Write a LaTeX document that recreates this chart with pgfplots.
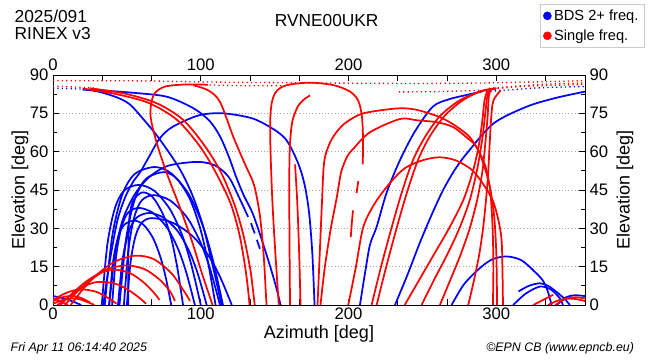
\documentclass[border=0pt]{standalone}
\usepackage{fontspec}
\setmainfont{Liberation Sans}
\usepackage{pgfplots}
\pgfplotsset{compat=1.18}
\pgfplotsset{
  bl/.style={color={rgb,255:red,0;green,0;blue,255}, line width=1.3pt, smooth, no marks},
  rd/.style={color={rgb,255:red,255;green,0;blue,0}, line width=1.3pt, smooth, no marks},
  bldot/.style={color={rgb,255:red,0;green,0;blue,255}, line width=1pt, smooth, no marks, dash pattern=on 0.9pt off 2.4pt},
  rddot/.style={color={rgb,255:red,255;green,0;blue,0}, line width=1pt, smooth, no marks, dash pattern=on 0.9pt off 2.4pt},
  common/.style={
    at={(39.75pt,41.25pt)}, anchor=south west, width=399pt, height=172.5pt, scale only axis,
    xmin=0, xmax=360, ymin=0, ymax=90,
    xtick={0,33.333,66.667,100,133.333,166.667,200,233.333,266.667,300,333.333},
    xticklabels={0,,,100,,,200,,,300,},
    ytick={0,15,...,90}, minor ytick={7.5,22.5,...,82.5},
    tick align=inside, major tick length=4.5pt, minor tick length=3pt,
    tick label style={font=\fontsize{12.5}{13}\selectfont},
    xticklabel style={yshift=1.5pt},
    label style={font=\fontsize{13.5}{14}\selectfont},
    /pgf/number format/assume math mode=true,
    every tick/.style={black, line width=0.6pt},
  }
}
\begin{document}
\begin{tikzpicture}[x=1pt,y=1pt]
\path (0,0) rectangle (487.5,270);
\node[anchor=west, font=\fontsize{13}{14}\selectfont] at (7.5,257.5) {2025/091};
\node[anchor=west, font=\fontsize{13}{14}\selectfont] at (7.5,245) {RINEX v3};
\node[anchor=center, font=\fontsize{13}{14}\selectfont] at (245,254.5) {RVNE00UKR};
\node[anchor=west, font=\itshape\fontsize{9.3}{10}\selectfont] at (4.5,9) {Fri Apr 11 06:14:40 2025};
\node[anchor=east, font=\itshape\fontsize{9.3}{10}\selectfont] at (479,9) {©EPN CB (www.epncb.eu)};
\begin{axis}[common,
  ymajorgrids, major grid style={gray!70, dotted, line width=0.6pt},
  axis line style={black, line width=0.7pt},
  xlabel={Azimuth [deg]}, ylabel={Elevation [deg]},
  xlabel style={at={(axis description cs:0.5,-0.126)}, anchor=center},
  ylabel style={at={(axis description cs:-0.062,0.5)}, anchor=center},
]
% ---------------- red dotted tops
\addplot[rddot] coordinates {(0,87.8) (60,87.7) (100,87.3) (150,87) (235,86.7) (280,86.8) (320,87.2) (360,87.8)};
\addplot[rddot] coordinates {(100,86.2) (130,85.8) (160,85.8)};
\addplot[rddot] coordinates {(234,83.4) (260,83.5) (289,84)};
\addplot[rddot] coordinates {(292,84.2) (320,85.6) (360,86.3)};
\addplot[rddot] coordinates {(295,84.8) (330,86.3) (360,86.9)};
\addplot[rddot] coordinates {(0,85.6) (15,85.3) (30,84.8)};
% ---------------- blue dotted tops
\addplot[bldot] coordinates {(0,84.8) (15,84.6) (30,84.2)};
\addplot[bldot] coordinates {(290,83.5) (300,83.8) (330,85) (360,85.5)};
% ---------------- blue tracks
\addplot[bl] coordinates {(20,84.3) (30,83.6) (43,81.3) (52,78.5) (61,72.8) (72,65) (86,53) (95,42) (102,30) (107,18) (111,8) (114,0)};
\addplot[bl] coordinates {(30,84.1) (55,83) (77,81.5) (95,77) (106,72) (113,66) (119,58) (124,50) (129,43) (135,36) (141,26) (147,15) (151,7) (154,0)};
\addplot[bl] coordinates {(34,0) (37,12) (40.8,25) (44,34) (48.7,42) (54,48) (59,52) (65,58) (72,65) (80.6,69.6) (98.6,74.2) (115,75) (135,73) (150,68.5) (158,64.5) (164,58) (168,52) (171,45) (173.5,35) (175.5,20) (177,0)};
\addplot[bl] coordinates {(38,0) (42,20) (47,33) (55,43) (65,50) (78,54.5) (98,56) (110,54.5) (119,50) (126,42) (132,34.5)};
\addplot[bl] coordinates {(134,32) (136.5,28)};
\addplot[bl] coordinates {(138,25.5) (140,22)};
\addplot[bl] coordinates {(35,0) (40.1,27) (46.9,43.2) (55.4,51.3) (69,54) (80.5,51.3) (92,43.2) (101.2,31.3) (108.1,17.8) (115,0)};
\addplot[bl] coordinates {(45,0) (49.5,26) (55.5,41.6) (63,49.4) (75,52) (83.75,49.4) (92.5,41.6) (99.5,30.2) (104.75,17.2) (110,0)};
\addplot[bl] coordinates {(33,0) (36.75,23.5) (41.75,37.6) (48,44.7) (58,47) (68.5,44.7) (79,37.6) (87.4,27.3) (93.7,15.5) (100,0)};
\addplot[bl] coordinates {(48,0) (51,21.5) (55,34.4) (60,40.9) (68,43) (79.25,40.9) (90.5,34.4) (99.5,24.9) (106.25,14.2) (113,0)};
\addplot[bl] coordinates {(40,0) (42.7,19) (46.3,30.4) (50.8,36.1) (58,38) (67.5,36.1) (77,30.4) (84.6,22) (90.3,12.5) (96,0)};
\addplot[bl] coordinates {(44,0) (47.15,18) (51.35,28.8) (56.6,34.2) (65,36) (74.75,34.2) (84.5,28.8) (92.3,20.9) (98.15,11.9) (104,0)};
\addplot[bl] coordinates {(50,0) (52.55,17) (55.95,27.2) (60.2,32.3) (67,34) (80.5,32.3) (94,27.2) (104.8,19.7) (112.9,11.2) (121,0)};
\addplot[bl] coordinates {(51,0) (51,20) (51.5,33) (54,40.5) (60,44) (67,42.5) (74,36) (79.6,27) (84,15) (88,0)};
\addplot[bl] coordinates {(38,0) (40.55,16.5) (43.95,26.4) (48.2,31.4) (55,33) (61.25,31.4) (67.5,26.4) (72.5,19.1) (76.25,10.9) (80,0)};
\addplot[bl] coordinates {(0,3.5) (8,2.5) (15,1) (19,0)};
\addplot[bl] coordinates {(341,0) (347,3) (353,3.8) (360,3.5)};
\addplot[bl] coordinates {(269.7,0) (278,8) (288,14) (297,17.8) (307,19) (317,17.5) (326,13) (331.7,9.4) (335,5) (337.4,0)};
\addplot[bl] coordinates {(315,5.3) (322,7.5) (329.5,8.5) (335,7.5) (341,5) (346,2.5) (349.8,0)};
\addplot[bl] coordinates {(311.4,0) (320,4.5) (329.5,7.2) (337,6) (343,2.6) (345,0)};
\addplot[bl] coordinates {(207.7,0) (211,12) (214.5,23.6) (219,30.6) (225.8,44) (234.8,56.7) (245,68) (257,77.6) (268,80.5) (280,82.2) (290,83.5)};
\addplot[bl] coordinates {(231.4,0) (240,12) (248,24) (256,35) (264,45) (272,53) (280,59.3) (298,71) (320.5,77.6) (340,81) (360,83.5)};
% ---------------- red tracks
\addplot[rd] coordinates {(20,84.7) (43,82.5) (65,79) (84,72.4) (99.5,62) (110,52) (120,40) (126,28) (130,15) (132,6) (133,0)};
\addplot[rd] coordinates {(25,84.8) (48,82.8) (70,79) (88,72.5) (103,62) (114,51.5) (123,39) (129,27) (133.5,14) (135.5,5) (136.5,0)};
\addplot[rd] coordinates {(108,0) (101,12) (94,25) (86,38) (78,50) (72,60) (68,68) (66,74) (66.5,79) (69,83) (76,85.5) (90,86.3) (105,86.2)};
\addplot[rd] coordinates {(95,86) (105,84) (113,79.5) (122,65.8) (130,55) (136,47) (140,35) (142.5,20) (144,5) (144.5,0)};
\addplot[rd] coordinates {(152.8,0) (150.5,20) (148.5,40) (147.2,60) (147,72) (148,79) (151,83.5) (158,86) (174,87) (190,86) (201,83.5) (206.5,80) (209,74) (209.8,65) (209.6,55)};
\addplot[rd] coordinates {(206.6,48.5) (205.4,43.8)};
\addplot[rd] coordinates {(203,37) (202.2,32) (201.5,26.6)};
\addplot[rd] coordinates {(160.4,0) (160.1,20) (159.9,40) (160,56.7) (160.6,65) (162,72) (165.5,77.5) (170,80.5) (174,82)};
\addplot[rd] coordinates {(167.5,0) (166.6,20) (165.3,40) (163.8,55)};
\addplot[rd] coordinates {(179,0) (180.5,20) (182,40) (183.5,56) (187.5,63.6) (193,68.5) (198.7,71.6) (210,75) (232.5,76.9) (245,76.5) (259.6,74) (270,71) (282,65.7) (290,58) (293.4,52.6) (296,44) (297.5,30) (298,15) (297.7,0)};
\addplot[rd] coordinates {(181,0) (184,15) (188,30) (192,42) (195,52) (199,58) (203,61) (214.5,67.6) (234.8,72.8) (246,72.3) (260,71.5) (270.8,69.6) (280,65.5) (286.7,61.8) (292,54) (295.7,46) (298.5,35) (300,20) (300.5,0)};
\addplot[rd] coordinates {(199.8,0) (205,15) (210,30.6) (218,40) (228,47.7) (238,53.5) (250.5,56.7) (261.8,57.8) (273,56.5) (284,52.6) (292,46.5) (297.7,40.7) (301.5,33) (303.6,25) (304.2,12) (304.5,0)};
\addplot[rd] coordinates {(215.6,0) (222,15) (229,30) (236,44) (243.6,56.7) (252,66) (262,74) (275,80) (289,83.5) (300,84.6)};
\addplot[rd] coordinates {(219,0) (225.5,15) (232.5,30) (239.5,44) (247,56.7) (255,66) (265,74) (277,80) (290,83.8) (300,84.8)};
\addplot[rd] coordinates {(238,0) (248,10) (258,20) (268,30) (277.6,41) (284,52) (288,62) (290.5,72) (292,80) (294,84)};
\addplot[rd] coordinates {(249.4,0) (258,10) (267,20) (275,30) (282,41) (287,53) (290.5,65) (292.5,75) (294,82) (296,84.5)};
\addplot[rd] coordinates {(261.8,0) (269,10) (276,20) (282,30) (287,41) (290.5,52) (292.5,63) (294,73) (295,82) (297,84.8)};
\addplot[rd] coordinates {(281,0) (285,10) (288.5,20) (291,30) (293,41) (294.5,52) (295.5,63) (296.5,73) (298,80) (303,84)};
% low red arcs left
\addplot[rd] coordinates {(12,0) (20,6) (30,12) (42,17) (55.5,19.3) (68,18) (80,12.5) (88,6) (92.7,1.6)};
\addplot[rd] coordinates {(8,0) (16,5) (26,10) (37,14) (49.8,15.5) (62,14) (72,10) (79,5.5) (82.5,1.6)};
\addplot[rd] coordinates {(5,0) (12,4) (22,9) (32,12.5) (42,13.8) (52,12.5) (61,9) (68,5) (72,2)};
\addplot[rd] coordinates {(3,0) (10,3) (20,7) (28,8.8) (35,9) (44,8) (52,5.5) (58,3) (63,0.5)};
\addplot[rd] coordinates {(0,2) (8,4.5) (15,5.8) (22,6) (30,5) (38,2.5) (43,0.5)};
\addplot[rd] coordinates {(0,1.5) (6,3) (12,3.5) (18,3) (25,1)};
\addplot[rd] coordinates {(0,0.5) (8,2.2) (16,2.5) (24,1) (28,0)};
\addplot[rd] coordinates {(0,2.6) (5,1.5) (10,0)};
% low red arcs right
\addplot[rd] coordinates {(325,0) (330,1.5) (335,3) (338.5,4)};
\addplot[rd] coordinates {(335,0) (342,1.8) (350,2.5) (357,2) (360,1.5)};
\addplot[rd] coordinates {(340,0) (347,2.5) (354,3) (360,2.6)};
\end{axis}
\begin{axis}[common,
  xticklabel pos=right, yticklabel pos=right,
  xticklabel style={yshift=-1.5pt},
  axis line style={draw=none}, tick style={draw=none},
  ylabel={Elevation [deg]},
  ylabel style={at={(axis description cs:1.075,0.5)}, anchor=center},
  legend style={at={(1.111,1.309)}, anchor=north east, draw=gray!40, font=\fontsize{11}{12}\selectfont, cells={anchor=west}, row sep=1.5pt, inner sep=2pt, legend image post style={mark size=3pt}},
]
\addlegendimage{only marks, mark=*, mark size=3pt, color={rgb,255:red,0;green,0;blue,255}}
\addlegendentry{BDS 2+ freq.}
\addlegendimage{only marks, mark=*, mark size=3pt, color={rgb,255:red,255;green,0;blue,0}}
\addlegendentry{Single freq.}
\end{axis}
\end{tikzpicture}
\end{document}
